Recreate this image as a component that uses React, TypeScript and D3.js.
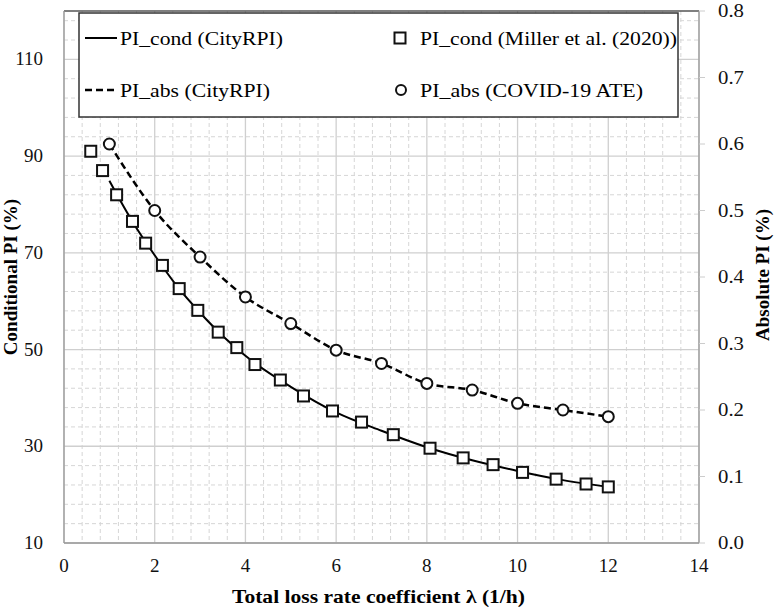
import React from "react";
import * as d3 from "d3";

// ---- data ----
const millerX = [0.59, 0.85, 1.16, 1.51, 1.8, 2.17, 2.54, 2.95, 3.4, 3.81, 4.21, 4.77, 5.28, 5.92, 6.56, 7.26, 8.07, 8.8, 9.46, 10.11, 10.85, 11.51, 12.0];
const millerCond = [91.0, 87.0, 82.0, 76.5, 72.0, 67.4, 62.6, 58.1, 53.6, 50.4, 46.9, 43.7, 40.4, 37.3, 35.0, 32.4, 29.6, 27.6, 26.2, 24.6, 23.2, 22.2, 21.6];

const cityX = [1, 1.5, 2, 2.5, 3, 3.5, 4, 5, 6, 7, 8, 9, 10, 11, 12];
const cityCond = [84.9, 76.6, 69.5, 63.0, 57.6, 52.8, 48.7, 42.3, 37.0, 33.2, 29.8, 27.1, 24.9, 23.0, 21.6];

const ateX = [1, 2, 3, 4, 5, 6, 7, 8, 9, 10, 11, 12];
const ateAbs = [0.6, 0.5, 0.43, 0.37, 0.33, 0.29, 0.27, 0.24, 0.23, 0.21, 0.2, 0.19];
const cityAbs = [0.6, 0.5, 0.43, 0.37, 0.33, 0.29, 0.27, 0.24, 0.23, 0.21, 0.2, 0.19];

const xTicks = [0, 2, 4, 6, 8, 10, 12, 14];
const yLeftTicks = [10, 30, 50, 70, 90, 110];
const yRightTicks = [0, 0.1, 0.2, 0.3, 0.4, 0.5, 0.6, 0.7, 0.8];

const legendLabels = [
  "PI_cond (CityRPI)",
  "PI_abs (CityRPI)",
  "PI_cond (Miller et al. (2020))",
  "PI_abs (COVID-19 ATE)",
];

const W = 777;
const H = 613;
const L = 64, R = 699, T = 11, B = 543;
const FONT = "'Liberation Serif', 'Times New Roman', serif";

export default function App() {
  const x = d3.scaleLinear().domain([0, 14]).range([L, R]);
  const yL = d3.scaleLinear().domain([10, 120]).range([B, T]);
  const yR = d3.scaleLinear().domain([0, 0.8]).range([B, T]);

  const minorX = d3.range(0, 14.001, 0.4).filter((v) => Math.abs(v / 2 - Math.round(v / 2)) > 1e-6);
  const minorY = d3.range(10, 120.001, 4).filter((v) => (v - 10) % 20 !== 0);

  const lineCond = d3
    .line<number>()
    .x((_, i) => x(cityX[i]))
    .y((d) => yL(d))
    .curve(d3.curveMonotoneX);
  const lineAbs = d3
    .line<number>()
    .x((_, i) => x(ateX[i]))
    .y((d) => yR(d))
    .curve(d3.curveMonotoneX);

  const sq = 11;
  const cr = 5.5;

  return (
    <svg width={W} height={H} style={{ position: "absolute", left: 0, top: 0 }} fontFamily={FONT}>
      <rect x={0} y={0} width={W} height={H} fill="#fff" />
      {/* minor grid */}
      {minorX.map((v, i) => (
        <line key={"mx" + i} x1={x(v)} x2={x(v)} y1={T} y2={B} stroke="#d6d6d6" strokeWidth={1} strokeDasharray="4,3" />
      ))}
      {minorY.map((v, i) => (
        <line key={"my" + i} x1={L} x2={R} y1={yL(v)} y2={yL(v)} stroke="#d6d6d6" strokeWidth={1} strokeDasharray="4,3" />
      ))}
      {/* major grid */}
      {xTicks.map((v) => (
        <line key={"Mx" + v} x1={x(v)} x2={x(v)} y1={T} y2={B} stroke="#cfcfcf" strokeWidth={1.3} />
      ))}
      {yLeftTicks.map((v) => (
        <line key={"My" + v} x1={L} x2={R} y1={yL(v)} y2={yL(v)} stroke="#cfcfcf" strokeWidth={1.3} />
      ))}
      {/* frame */}
      <line x1={L} x2={R} y1={T} y2={T} stroke="#555" strokeWidth={1.3} />
      <line x1={L} x2={L} y1={T} y2={B} stroke="#999" strokeWidth={1.3} />
      <line x1={R} x2={R} y1={T} y2={B} stroke="#999" strokeWidth={1.3} />
      <line x1={L} x2={R} y1={B} y2={B} stroke="#999" strokeWidth={1.3} />
      {yRightTicks.map((v) => (
        <line key={"rt" + v} x1={R} x2={R + 6} y1={yR(v)} y2={yR(v)} stroke="#ccc" strokeWidth={1} />
      ))}

      {/* series */}
      <path d={lineCond(cityCond) || ""} fill="none" stroke="#000" strokeWidth={2} />
      <path d={lineAbs(cityAbs) || ""} fill="none" stroke="#000" strokeWidth={2.5} strokeDasharray="7,4" />
      {millerCond.map((v, i) => (
        <rect key={"s" + i} x={x(millerX[i]) - sq / 2} y={yL(v) - sq / 2} width={sq} height={sq} fill="#fff" stroke="#111" strokeWidth={2} />
      ))}
      {ateAbs.map((v, i) => (
        <circle key={"c" + i} cx={x(ateX[i])} cy={yR(v)} r={cr} fill="#fff" stroke="#111" strokeWidth={2} />
      ))}

      {/* tick labels */}
      {xTicks.map((v) => (
        <text key={"xl" + v} x={x(v)} y={572} textAnchor="middle" fontSize={19} fill="#111">
          {v}
        </text>
      ))}
      {yLeftTicks.map((v) => (
        <text key={"yl" + v} x={43} y={yL(v) + 6} textAnchor="end" fontSize={19} fill="#111">
          {v}
        </text>
      ))}
      {yRightTicks.map((v) => (
        <text key={"yr" + v} x={718} y={yR(v) + 6} textAnchor="start" fontSize={18} textLength={26} lengthAdjust="spacingAndGlyphs" fill="#111">
          {v.toFixed(1)}
        </text>
      ))}

      {/* axis titles */}
      <text x={378.5} y={603} textAnchor="middle" fontSize={19} fontWeight="bold" textLength={293} lengthAdjust="spacingAndGlyphs" fill="#000">
        Total loss rate coefficient λ (1/h)
      </text>
      <text transform={`translate(17,277) rotate(-90)`} textAnchor="middle" fontSize={19} fontWeight="bold" fill="#000">
        Conditional PI (%)
      </text>
      <text transform={`translate(769,275) rotate(-90)`} textAnchor="middle" fontSize={19} fontWeight="bold" fill="#000">
        Absolute PI (%)
      </text>

      {/* legend */}
      <rect x={79} y={13} width={599} height={104} fill="#fff" stroke="#333" strokeWidth={1.5} />
      <line x1={85} x2={117} y1={38} y2={38} stroke="#000" strokeWidth={2} />
      <line x1={85} x2={117} y1={90} y2={90} stroke="#000" strokeWidth={2.5} strokeDasharray="7,4" />
      <rect x={400 - 5.5} y={38 - 5.5} width={11} height={11} fill="#fff" stroke="#111" strokeWidth={2} />
      <circle cx={401} cy={90} r={5} fill="#fff" stroke="#111" strokeWidth={2} />
      <text x={120} y={44.5} fontSize={19.5} textLength={163} lengthAdjust="spacingAndGlyphs" fill="#000">{legendLabels[0]}</text>
      <text x={120} y={96.5} fontSize={19.5} textLength={150} lengthAdjust="spacingAndGlyphs" fill="#000">{legendLabels[1]}</text>
      <text x={420} y={44.5} fontSize={19.5} textLength={257} lengthAdjust="spacingAndGlyphs" fill="#000">{legendLabels[2]}</text>
      <text x={420} y={96.5} fontSize={19.5} textLength={223} lengthAdjust="spacingAndGlyphs" fill="#000">{legendLabels[3]}</text>
    </svg>
  );
}
